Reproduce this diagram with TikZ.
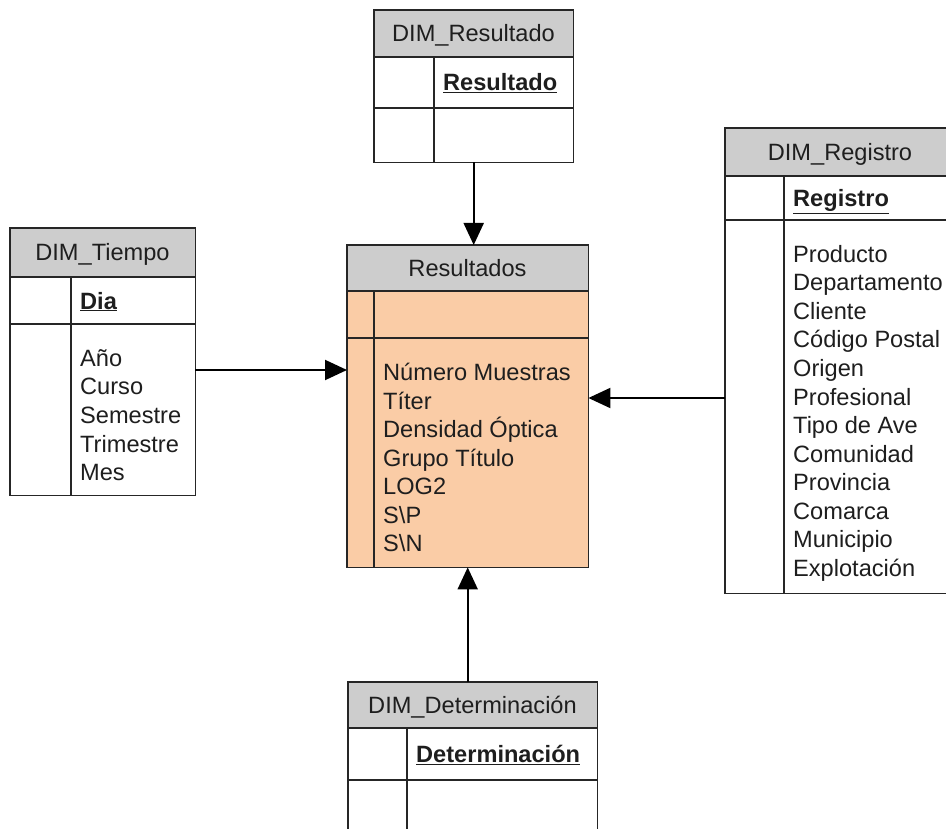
\documentclass[tikz,border=0pt]{standalone}
\usepackage{fontspec}
\setmainfont{Liberation Sans}
\usetikzlibrary{arrows.meta}
\definecolor{hdrgray}{RGB}{205,205,205}
\definecolor{peach}{RGB}{250,204,166}
\definecolor{edge}{RGB}{38,38,38}
\definecolor{ink}{RGB}{30,30,30}
\tikzset{
  x=1pt, y=-1pt,
  every node/.style={font=\fontsize{23.6}{28.4}\selectfont, text=ink, inner sep=0pt},
  tablebody/.style={anchor=north west, draw=none},
  rule/.style={draw=edge, line width=1.6pt},
  outline/.style={draw=edge, line width=1.6pt},
  title/.style={anchor=base},
  attr/.style={anchor=base west},
  keyattr/.style={anchor=base west, font=\fontsize{23.6}{28.4}\selectfont\bfseries},
  conn/.style={draw=black, line width=2pt, -{Triangle[length=22pt,width=20pt]}},
}
\begin{document}
\begin{tikzpicture}
\useasboundingbox (0,0) rectangle (946,829);
\clip (0,0) rectangle (946,829);
\fill[white] (0,0) rectangle (946,829);

% ---------- DIM_Resultado ----------
\node[tablebody, fill=white, minimum width=199, minimum height=152] (dimres) at (374,10) {};
\fill[hdrgray] (374,10) rectangle (573,57);
\draw[rule] (374,57) -- (573,57) (374,108) -- (573,108) (434,57) -- (434,162);
\draw[outline] (dimres.north west) rectangle (dimres.south east);
\node[title] (dimres-t) at (473.5,42) {DIM\_Resultado};
\node[keyattr] (dimres-k) at (443,91) {\underline{Resultado}};

% ---------- DIM_Tiempo ----------
\node[tablebody, fill=white, minimum width=185, minimum height=267] (tiempo) at (10,228) {};
\fill[hdrgray] (10,228) rectangle (195,277);
\draw[rule] (10,277) -- (195,277) (10,324) -- (195,324) (71,277) -- (71,495);
\draw[outline] (tiempo.north west) rectangle (tiempo.south east);
\node[title] (tiempo-t) at (102.5,261) {DIM\_Tiempo};
\node[keyattr] (tiempo-k) at (80,309) {\underline{Dia}};
\foreach \t [count=\i from 0] in {Año, Curso, Semestre, Trimestre, Mes}
  \node[attr] (tiempo-a\i) at (80,366.5+28.5*\i) {\t};

% ---------- Resultados (fact table) ----------
\node[tablebody, fill=peach, minimum width=241, minimum height=322] (fact) at (347,245) {};
\fill[hdrgray] (347,245) rectangle (588,291);
\draw[rule] (347,291) -- (588,291) (347,338) -- (588,338) (374,291) -- (374,567);
\draw[outline] (fact.north west) rectangle (fact.south east);
\node[title] (fact-t) at (467.5,276.5) {Resultados};
\foreach \t [count=\i from 0] in {Número Muestras, Títer, Densidad Óptica,
    Grupo Título, LOG2, S\textbackslash P, S\textbackslash N}
  \node[attr] (fact-a\i) at (383,380.5+28.5*\i) {\t};

% ---------- DIM_Registro ----------
\node[tablebody, fill=white, minimum width=230, minimum height=465] (registro) at (725,128) {};
\fill[hdrgray] (725,128) rectangle (955,176);
\draw[rule] (725,176) -- (955,176) (725,220) -- (955,220) (784,176) -- (784,593);
\draw[outline] (registro.north west) rectangle (registro.south east);
\node[title] (registro-t) at (840,160.5) {DIM\_Registro};
\node[keyattr] (registro-k) at (793,206.5) {\underline{Registro}};
\foreach \t [count=\i from 0] in {Producto, Departamento, Cliente, Código Postal,
    Origen, Profesional, Tipo de Ave, Comunidad, Provincia, Comarca,
    Municipio, Explotación}
  \node[attr] (registro-a\i) at (793,262.5+28.5*\i) {\t};

% ---------- DIM_Determinación ----------
\node[tablebody, fill=white, minimum width=249, minimum height=163] (det) at (348,682) {};
\fill[hdrgray] (348,682) rectangle (597,728);
\draw[rule] (348,728) -- (597,728) (348,780) -- (597,780) (407,728) -- (407,845);
\draw[outline] (det.north west) rectangle (det.south east);
\node[title] (det-t) at (472.5,713.5) {DIM\_Determinación};
\node[keyattr] (det-k) at (416,762.5) {\underline{Determinación}};

% ---------- connectors ----------
\coordinate (yl) at (0,370);
\coordinate (yr) at (0,398);
\draw[conn] (dimres.south) -- (dimres.south |- fact.north);
\draw[conn] (tiempo.east |- yl) -- (fact.west |- yl);
\draw[conn] (registro.west |- yr) -- (fact.east |- yr);
\draw[conn] (fact.south |- det.north) -- (fact.south);
\end{tikzpicture}
\end{document}
